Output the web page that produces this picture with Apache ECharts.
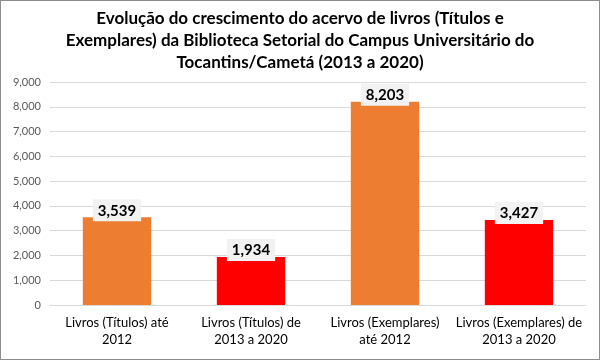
<!DOCTYPE html>
<html><head><meta charset="utf-8">
<script src="https://cdn.jsdelivr.net/npm/echarts@6/dist/echarts.min.js"></script>
<style>html,body{margin:0;padding:0;background:#fff}#c{width:598px;height:358px;border:1px solid #8c8c8c}</style>
</head><body><div id="c"></div>
<script>
const categories = ["Livros (Títulos) até\n2012", "Livros (Títulos) de\n2013 a 2020", "Livros (Exemplares)\naté 2012", "Livros (Exemplares) de\n2013 a 2020"];
const values = [3539, 1934, 8203, 3427];
const barColors = ["#ED7D31", "#FF0000", "#ED7D31", "#FF0000"];
const titleText = "Evolução do crescimento do acervo de livros (Títulos e\nExemplares) da Biblioteca Setorial do Campus Universitário do\nTocantins/Cametá (2013 a 2020)";
const FONT = "Lato";
const chart = echarts.init(document.getElementById('c'));
chart.setOption({
  animation: false,
  title: {text: titleText, left: 'center', top: 2, textStyle: {fontFamily: FONT, fontSize: 17, fontWeight: 'bold', color: '#000', lineHeight: 22}},
  grid: {left: 49, right: 13, top: 81, bottom: 54},
  xAxis: {type: 'category', data: categories,
    axisLine: {lineStyle: {color: '#d9d9d9'}}, axisTick: {show: false},
    axisLabel: {fontFamily: FONT, fontSize: 13, color: '#000', lineHeight: 17, margin: 9, interval: 0}},
  yAxis: {type: 'value', min: 0, max: 9000, interval: 1000,
    axisLine: {show: false}, axisTick: {show: false},
    splitLine: {lineStyle: {color: '#d9d9d9'}},
    axisLabel: {fontFamily: FONT, fontSize: 11, color: '#595959', margin: 9,
      formatter: v => v.toLocaleString('en-US')}},
  series: [{type: 'bar', barWidth: '51%',
    data: values.map((v, i) => ({value: v, itemStyle: {color: barColors[i]}})),
    label: {show: true, position: 'top', distance: -4, fontFamily: FONT, fontSize: 15, fontWeight: 'bold', color: '#000',
      backgroundColor: '#f2f2f2', padding: [4, 5, 3, 5],
      formatter: p => p.value.toLocaleString('en-US')}}]
});
</script></body></html>
